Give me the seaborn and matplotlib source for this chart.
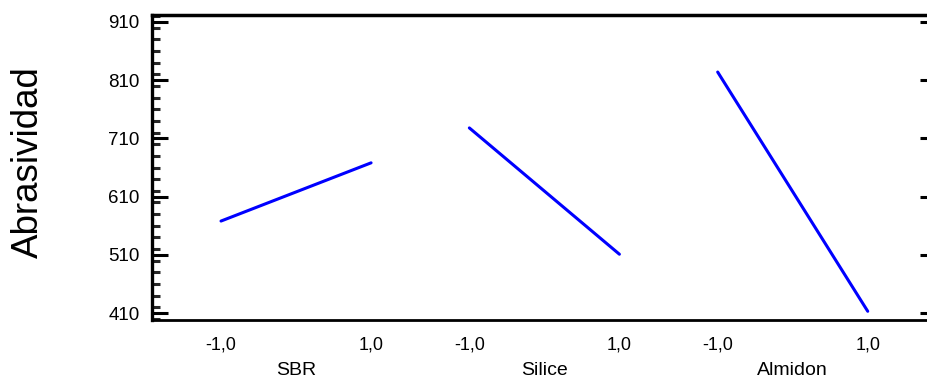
import matplotlib
matplotlib.use("Agg")
import matplotlib.pyplot as plt
import matplotlib.transforms as mtransforms
from matplotlib.ticker import FixedLocator, MultipleLocator
import pandas as pd
import seaborn as sns

# Main effects of each factor on abrasiveness (coded levels -1 / +1)
factors = ["SBR", "Silice", "Almidon"]
levels = [-1.0, 1.0]
low_values = [568, 728, 824]
high_values = [668, 511, 413]
level_labels = ["-1,0", "1,0"]
y_ticks = [410, 510, 610, 710, 810, 910]
y_label = "Abrasividad"

sns.set_theme(style="white")
plt.rcParams["font.family"] = ["Liberation Sans", "DejaVu Sans"]

# each factor gets its own panel along a shared x axis
spacing = 3.31
rows = []
for i, (name, lo, hi) in enumerate(zip(factors, low_values, high_values)):
    for lev, val in zip(levels, (lo, hi)):
        rows.append({"factor": name, "x": i * spacing + lev, "y": val})
df = pd.DataFrame(rows)

fig = plt.figure(figsize=(9.27, 3.83), dpi=100)
ax = fig.add_axes([152 / 927, 1 - 320 / 383, (927 - 152) / 927, (320 - 15) / 383])

sns.lineplot(data=df, x="x", y="y", units="factor", estimator=None,
             color="#0000ff", linewidth=2.2, legend=False, ax=ax)

ax.set_xlim(-1.92, 8.41)
ax.set_ylim(398, 922)

# spines: heavy left/top/bottom, no right line
ax.spines["right"].set_visible(False)
ax.spines["top"].set_linewidth(2.5)
ax.spines["left"].set_linewidth(2.4)
ax.spines["bottom"].set_linewidth(2.0)
for s in ("top", "left", "bottom"):
    ax.spines[s].set_color("black")

# y ticks
ax.yaxis.set_major_locator(FixedLocator(y_ticks))
ax.yaxis.set_minor_locator(MultipleLocator(20))
ax.tick_params(axis="y", which="major", direction="in", length=11.5, width=2.2,
               labelsize=13.5, pad=9, left=True, right=True, colors="black")
ax.tick_params(axis="y", which="minor", direction="in", length=6, width=2.2,
               left=True, right=False)
# shorter tick marks on the right side
for tick in ax.yaxis.get_major_ticks():
    tick.tick2line.set_markersize(5)

# x ticks: coded levels under each factor
xpos = [i * spacing + lev for i in range(len(factors)) for lev in levels]
ax.set_xticks(xpos)
ax.set_xticklabels(level_labels * len(factors))
ax.tick_params(axis="x", which="major", length=0, labelsize=13, pad=12,
               bottom=True, colors="black")
ax.set_xlabel("")
ax.set_ylabel("")

trans = mtransforms.blended_transform_factory(ax.transData, ax.transAxes)
for i, name in enumerate(factors):
    ax.text(i * spacing, -0.165, name, transform=trans, ha="center", va="center",
            fontsize=14, color="black")

fig.text(0.031, 0.576, y_label, rotation=90, ha="center", va="center",
         fontsize=26.5, color="black")

fig.savefig("out.png", dpi=100)
